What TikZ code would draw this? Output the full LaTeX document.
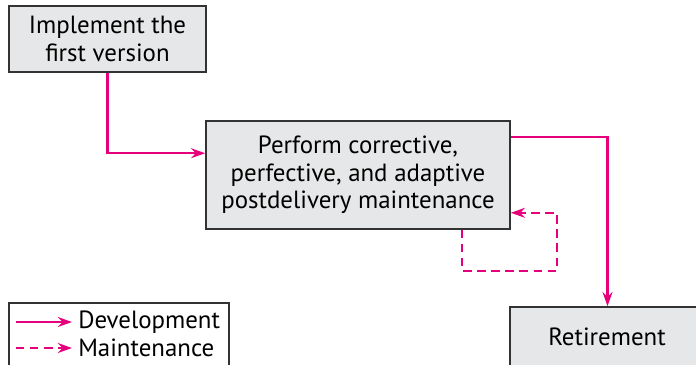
\documentclass[tikz,border=0pt]{standalone}
\usepackage{fontspec}
\setmainfont{PT Sans}
\usetikzlibrary{arrows.meta,calc}
\definecolor{devpink}{RGB}{230,0,126}
\definecolor{boxgray}{RGB}{230,231,232}
\tikzset{
  stagebox/.style={draw=black!80, line width=1.1pt, fill=boxgray, align=center,
    font=\fontsize{17.7}{19.6}\selectfont, inner sep=0pt},
  dev/.style={devpink, line width=1.8pt, -{Stealth[length=10pt,width=7pt]}},
  maint/.style={dev, dash pattern=on 6pt off 4pt},
}
\begin{document}
\begin{tikzpicture}[x=0.025cm, y=-0.025cm]
    \clip (0,0) rectangle (696,364);
    \useasboundingbox (0,0) rectangle (696,364);

    \node[stagebox, minimum width=4.925cm, minimum height=1.65cm] (impl) at (107.5,39)
      {Implement the\\first version};
    \node[stagebox, minimum width=7.6cm, minimum height=2.7cm] (perform) at (358,175)
      {Perform corrective,\\perfective, and adaptive\\postdelivery maintenance};
    \node[stagebox, minimum width=4.875cm, minimum height=1.625cm] (retire) at (607.5,339.5) {};
    \node[font=\fontsize{17.7}{19.6}\selectfont] (retirelbl) at (607,337) {Retirement};

    % development flow
    \coordinate (inpt) at ($(perform.north west)+(0,33)$);
    \coordinate (outpt) at ($(perform.north east)+(0,17)$);
    \draw[dev] (impl.south) |- (inpt);
    \draw[dev] (outpt) -| (retire.north);

    % maintenance loop
    \coordinate (loopa) at ($(perform.south)+(104,0)$);
    \coordinate (loopb) at ($(perform.south east)+(46,41)$);
    \coordinate (loopc) at ($(perform.south east)+(0,-17)$);
    \draw[maint] (loopa) |- (loopb) |- (loopc);

    % legend
    \node[draw=black!80, line width=1.1pt, fill=white, minimum width=5.5cm, minimum height=1.725cm] (legend) at (119,337.5) {};
    \coordinate (ds) at (16,322);
    \coordinate (de) at (72,322);
    \coordinate (ms) at (16,348);
    \coordinate (me) at (72,348);
    \draw[dev] (ds) -- (de);
    \draw[maint] (ms) -- (me);
    \node[anchor=west, inner sep=0pt, font=\fontsize{17.7}{19.6}\selectfont] (devlbl) at (78,322) {Development};
    \node[anchor=west, inner sep=0pt, font=\fontsize{17.7}{19.6}\selectfont] (maintlbl) at (78,348) {Maintenance};
\end{tikzpicture}
\end{document}
